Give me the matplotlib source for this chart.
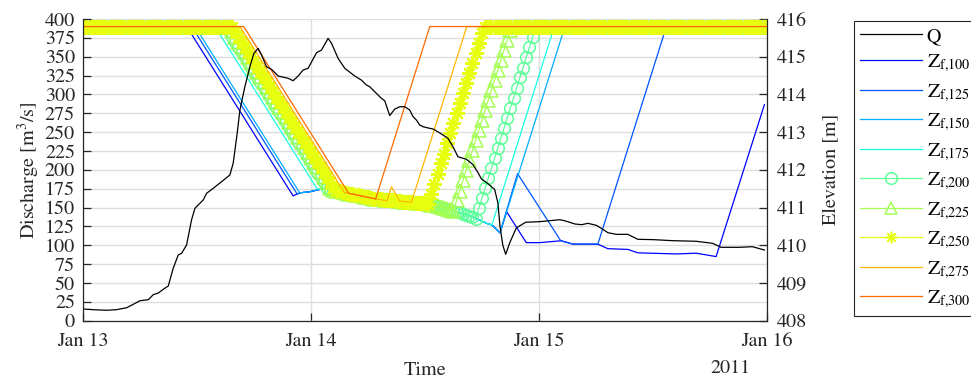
import numpy as np
import pandas as pd
import matplotlib
matplotlib.use("Agg")
import matplotlib.pyplot as plt
import matplotlib.dates as mdates
from matplotlib.ticker import MultipleLocator

plt.rcParams['font.family'] = ['STIXGeneral', 'DejaVu Serif']
plt.rcParams['mathtext.fontset'] = 'stix'

start = pd.Timestamp('2011-01-13')

# discharge Q (hours since Jan 13 00:00, m3/s)
q_hours = [0, 1.05, 2.46, 3.5, 4.57, 5.26, 5.97, 6.84, 7.37, 7.9,
           8.42, 8.95, 9.47, 10.0, 10.36, 10.88, 11.4, 11.76, 12.28, 12.63,
           12.99, 13.68, 14.57, 15.44, 15.79, 16.21, 16.5, 17.02, 17.55, 17.97,
           18.42, 18.78, 19.3, 19.83, 20.53, 21.58, 22.1, 22.63, 23.16, 23.68,
           24.57, 25.1, 25.79, 26.15, 26.84, 27.55, 28.6, 29.3, 29.83, 30.18,
           30.7, 31.23, 31.41, 31.76, 32.28, 32.81, 33.34, 33.86, 34.39, 34.74,
           35.09, 35.44, 35.79, 36.49, 36.84, 37.55, 38.42, 38.95, 39.47, 40.36,
           41.05, 41.6, 41.94, 42.6, 43.34, 43.68, 43.9, 44.2, 44.5, 44.95,
           45.62, 46.6, 48.08, 50.2, 50.7, 51.8, 52.5, 53.16, 54.04, 54.57,
           55.26, 56.15, 57.37, 58.42, 60.0, 62.1, 64.57, 66.3, 67.2, 69.1,
           70.5, 71.76]
q_values = [15.5, 14.6, 13.8, 14.6, 17.2, 21.7, 26.5, 27.8, 34.5, 36.7,
            41.6, 46, 69.5, 87.1, 89.4, 100.4, 133.5, 149, 155.6, 160,
            168.9, 175.5, 184.3, 193.2, 208.7, 248.4, 279.3, 310.2, 336.7, 354.5,
            361.1, 352.3, 336.7, 333.3, 324.4, 321.4, 318.2, 324.4, 332.4, 334.6,
            355.3, 358.9, 374.4, 367.8, 347.9, 334.6, 324.4, 319, 312.5, 310.2,
            303.6, 297, 294.9, 291.5, 272, 280.5, 283.7, 283.7, 279.3, 270.5,
            266.1, 259.5, 257.2, 255.1, 254.2, 249, 241.8, 230.7, 217.4, 214,
            207, 196, 188, 182, 174, 156, 125, 100, 88, 104,
            123, 130.5, 131.3, 133.9, 132.6, 128.2, 127.3, 129.1, 126.5, 122.5,
            116.7, 114.5, 114.5, 107.9, 107.5, 106.1, 105.3, 102.6, 97.3, 97.3,
            98.1, 93.7]

# plain-line elevation series, breakpoints (hours, m)
z100_hours = [0, 10.9, 22.1, 22.8, 23.86, 24.9, 25.45, 27.55, 30.8, 33.3,
              34.6, 36.3, 37.6, 39.1, 40.7, 41.75, 42.5, 43.05, 43.9, 44.6,
              46.67, 48.07, 50.36, 51.58, 54.21, 55.26, 57.37, 58.42, 62.46, 64.57,
              66.67, 71.76]
z100 = [415.8, 415.8, 411.31, 411.39, 411.42, 411.48, 411.51, 411.40, 411.23, 411.17,
        411.14, 411.10, 411.02, 410.91, 410.78, 410.67, 410.58, 410.54, 410.33, 410.89,
        410.07, 410.07, 410.12, 410.03, 410.03, 409.91, 409.89, 409.80, 409.77, 409.79,
        409.70, 413.73]
z125_hours = [0, 11.43, 22.53, 22.8, 23.86, 24.9, 25.45, 27.55, 30.8, 33.3,
              34.6, 36.3, 37.6, 39.1, 40.7, 41.75, 42.5, 43.05, 43.9, 45.75,
              50.3, 51.58, 54.21, 61.43, 72]
z125 = [415.8, 415.8, 411.36, 411.39, 411.42, 411.48, 411.51, 411.40, 411.23, 411.17,
        411.14, 411.10, 411.02, 410.91, 410.78, 410.67, 410.58, 410.54, 410.33, 411.9,
        410.12, 410.03, 410.03, 415.8, 415.8]
z150_hours = [0, 11.77, 22.8, 23.86, 24.9, 25.45, 27.55, 30.8, 33.3, 34.6,
              36.3, 37.6, 39.1, 40.7, 41.75, 42.5, 43.05, 43.9, 50.74, 72]
z150 = [415.8, 415.8, 411.39, 411.42, 411.48, 411.51, 411.40, 411.23, 411.17, 411.14,
        411.10, 411.02, 410.91, 410.78, 410.67, 410.58, 410.54, 410.33, 415.8, 415.8]
z175_hours = [0, 13.87, 24.65, 25.45, 27.55, 30.8, 33.3, 34.6, 36.3, 37.6,
              39.1, 40.7, 41.75, 42.5, 43.05, 49.63, 72]
z175 = [415.8, 415.8, 411.49, 411.51, 411.40, 411.23, 411.17, 411.14, 411.10, 411.02,
        410.91, 410.78, 410.67, 410.58, 410.54, 415.8, 415.8]
z275_hours = [0, 16.5, 27.5, 30.8, 32.0, 32.46, 33.34, 34.57, 40.4, 72]
z275 = [415.8, 415.8, 411.40, 411.23, 411.18, 411.55, 411.17, 411.14, 415.8, 415.8]
z300_hours = [0, 16.9, 27.95, 30.8, 36.5, 72]
z300 = [415.8, 415.8, 411.38, 411.23, 415.8, 415.8]

# marker series, one value every 20 min (217 samples)
t20 = pd.date_range('2011-01-13', '2011-01-16', freq='20min')
fall = [415.67, 415.53, 415.40, 415.27, 415.13, 415.00, 414.87, 414.73, 414.60, 414.47,
        414.33, 414.20, 414.07, 413.93, 413.80, 413.67, 413.53, 413.40, 413.27, 413.13,
        413.00, 412.87, 412.73, 412.60, 412.47, 412.33, 412.20, 412.07, 411.93, 411.80,
        411.67]
z200 = ([415.8] * 46 + fall +
        [411.51, 411.48, 411.46, 411.45, 411.43, 411.41, 411.39, 411.37, 411.36, 411.34,
         411.32, 411.31, 411.29, 411.27, 411.25, 411.24, 411.23, 411.22, 411.21, 411.20,
         411.19, 411.19, 411.18, 411.17, 411.16, 411.16, 411.15, 411.14, 411.13, 411.12,
         411.12, 411.11, 411.10, 411.08, 411.06, 411.04, 411.02, 410.99, 410.97, 410.94,
         410.92, 410.89, 410.87, 410.84, 410.81, 410.78, 410.75, 410.71,
         410.98, 411.25, 411.51, 411.78, 412.05, 412.31, 412.58, 412.85, 413.11, 413.38,
         413.65, 413.91, 414.18, 414.45, 414.71, 414.98, 415.25, 415.51] +
        [415.8] * 74)
z225 = ([415.8] * 47 + fall + [411.53, 411.46] +
        [411.45, 411.43, 411.41, 411.39, 411.37, 411.36, 411.34, 411.32, 411.31, 411.29,
         411.27, 411.25, 411.24, 411.23, 411.22, 411.21, 411.20, 411.19, 411.19, 411.18,
         411.17, 411.16, 411.16, 411.15, 411.14, 411.13, 411.12, 411.12, 411.11, 411.10,
         411.08, 411.06, 411.04, 411.02, 410.99, 410.97, 410.94, 410.92,
         411.19, 411.45, 411.72, 411.99, 412.25, 412.52, 412.79, 413.05, 413.32, 413.59,
         413.85, 414.12, 414.39, 414.65, 414.92, 415.19, 415.45, 415.72] +
        [415.8] * 81)
z250 = ([415.8] * 48 + fall + [411.53, 411.45, 411.43] +
        [411.41, 411.39, 411.37, 411.36, 411.34, 411.32, 411.31, 411.29, 411.27, 411.25,
         411.24, 411.23, 411.22, 411.21, 411.20, 411.19, 411.19, 411.18, 411.17, 411.16,
         411.16, 411.15, 411.14, 411.13, 411.12, 411.12, 411.11, 411.10,
         411.37, 411.63, 411.90, 412.17, 412.43, 412.70, 412.97, 413.23, 413.50, 413.77,
         414.03, 414.30, 414.57, 414.83, 415.10, 415.37, 415.63] +
        [415.8] * 90)


def to_time(hours):
    return start + pd.to_timedelta(np.asarray(hours), unit='h')


fig = plt.figure(figsize=(9.71, 3.78), dpi=100)
ax = fig.add_axes([0.0858, 0.1516, 0.7038, 0.7981])
axq = ax.twinx()

colors = plt.cm.jet(np.linspace(0.125, 0.8, 9))
dark = '#262626'
lw = 0.9

lines = []
lines += ax.plot(to_time(z100_hours), z100, color=colors[0], lw=lw)
lines += ax.plot(to_time(z125_hours), z125, color=colors[1], lw=lw)
lines += ax.plot(to_time(z150_hours), z150, color=colors[2], lw=lw)
lines += ax.plot(to_time(z175_hours), z175, color=colors[3], lw=lw)
lines += ax.plot(t20, z200, color=colors[4], lw=lw, marker='o', ms=8.4, mfc='none', mew=1.1)
lines += ax.plot(t20, z225, color=colors[5], lw=lw, marker='^', ms=10, mfc='none', mew=1.1)
lines += ax.plot(t20, z250, color=colors[6], lw=lw, marker=(8, 2, 0), ms=10.5, mew=1.6)
lines += ax.plot(to_time(z275_hours), z275, color=colors[7], lw=lw)
lines += ax.plot(to_time(z300_hours), z300, color=colors[8], lw=lw)

q_line, = axq.plot(to_time(q_hours), q_values, color='black', lw=lw)

# elevation axis (right)
ax.set_xlim(start, start + pd.Timedelta(days=3))
ax.set_ylim(408, 416)
ax.yaxis.tick_right()
ax.yaxis.set_label_position('right')
ax.yaxis.set_major_locator(MultipleLocator(1))
ax.yaxis.set_minor_locator(MultipleLocator(0.5))
ax.xaxis.set_major_locator(mdates.DayLocator())
ax.xaxis.set_major_formatter(mdates.DateFormatter('%b %d'))
ax.grid(True, which='both', axis='y', color='#dedede', lw=1.0)
ax.grid(True, which='major', axis='x', color='#dedede', lw=1.0)
ax.set_axisbelow(True)
ax.tick_params(axis='both', which='major', direction='in', length=6, width=0.9,
               labelsize=14.5, colors=dark, right=True, left=False)
ax.tick_params(axis='y', which='minor', length=0)
ax.tick_params(axis='x', pad=9)
ax.tick_params(axis='y', pad=7)
ax.set_ylabel('Elevation [m]', fontsize=14.5, color=dark, labelpad=11)
ax.set_xlabel('Time', fontsize=14.5, color=dark, labelpad=8)
for side in ['top', 'left']:
    ax.spines[side].set_visible(False)
for side in ['bottom', 'right']:
    ax.spines[side].set_color(dark)
    ax.spines[side].set_linewidth(0.9)

# discharge axis (left)
axq.set_ylim(0, 400)
axq.yaxis.tick_left()
axq.yaxis.set_label_position('left')
axq.yaxis.set_major_locator(MultipleLocator(25))
axq.tick_params(axis='y', direction='in', length=6, width=0.9, labelsize=14.5,
                colors=dark, pad=6, right=False)
axq.set_ylabel('Discharge [m$^3$/s]', fontsize=14.5, color=dark, labelpad=2)
for side in ['top', 'right', 'bottom']:
    axq.spines[side].set_visible(False)
axq.spines['left'].set_color(dark)
axq.spines['left'].set_linewidth(0.9)

fig.text(730 / 971, 1 - 368 / 378, '2011', ha='center', va='center',
         fontsize=14.5, color=dark)

labels = ['Q'] + [r'Z$_{\mathrm{f{,}%d}}$' % k for k in range(100, 325, 25)]
leg = fig.legend([q_line] + lines, labels, loc='upper left',
                 bbox_to_anchor=(854.3 / 971, 1 - 20.7 / 378), borderaxespad=0,
                 fancybox=False, edgecolor=dark, framealpha=1, fontsize=14.5,
                 handlelength=3.05, handletextpad=0.25, borderpad=0.3,
                 labelspacing=0.38, numpoints=1)
leg.get_frame().set_linewidth(0.8)
for h in leg.legend_handles:
    h.set_markersize(min(h.get_markersize(), 8.4))
    h.set_markeredgewidth(min(h.get_markeredgewidth(), 1.1))

fig.savefig('out.png', dpi=100)
